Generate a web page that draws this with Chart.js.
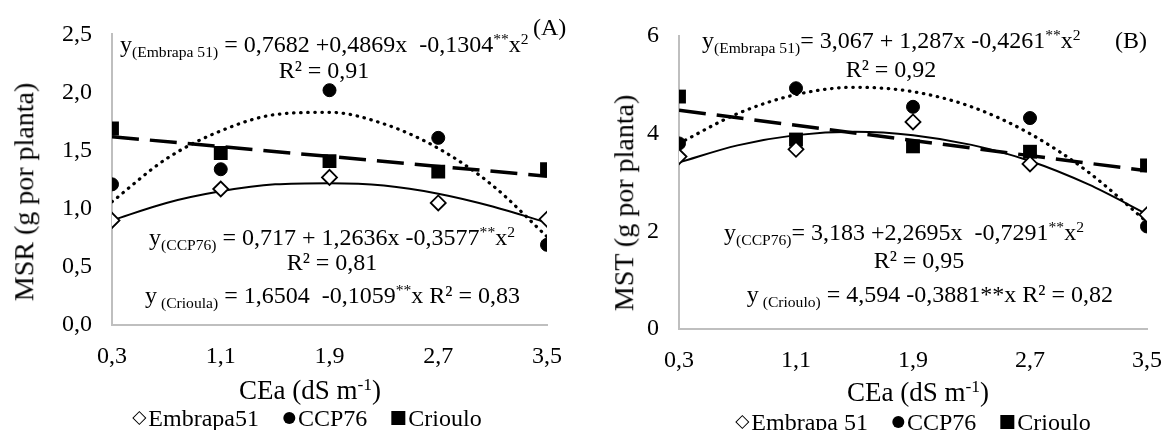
<!DOCTYPE html>
<html>
<head>
<meta charset="utf-8">
<script src="https://cdn.jsdelivr.net/npm/chart.js@4/dist/chart.umd.min.js"></script>
<style>
  html, body { margin:0; padding:0; background:#fff; }
  body { width:1163px; height:430px; overflow:hidden; position:relative;
         font-family:'Liberation Serif','Times New Roman',serif; color:#000; }
  canvas { position:absolute; top:0; }
  .t { position:absolute; font-size:24px; line-height:24px; white-space:pre; }
  .sb { font-size:0.65em; position:relative; top:0.32em; }
  .sp { font-size:0.65em; position:relative; top:-0.5em; }
  .ttl { position:absolute; font-size:27px; line-height:27px; white-space:pre; }
  .ytl { position:absolute; font-size:28px; line-height:28px; white-space:pre; }
  .leg { position:absolute; font-size:24px; line-height:24px; white-space:pre; transform:translate(-50%,-50%); }
  .mk { display:inline-block; vertical-align:middle; position:relative; top:-2px; }
  .mk.dia { width:8px; height:8px; border:1.6px solid #000; transform:rotate(45deg); margin:0 4px 0 2px; }
  .mk.cir { width:12px; height:12px; border-radius:50%; background:#000; margin:0 3px 0 0; }
  .mk.sq { width:14px; height:14px; background:#000; margin:0 3px 0 0; }
</style>
</head>
<body>
<canvas id="cA" width="580" height="430" style="left:0px"></canvas>
<canvas id="cB" width="600" height="430" style="left:580px"></canvas>

<script>
// ---------- data ----------
const X_VALUES = [0.3, 1.1, 1.9, 2.7, 3.5];
const X_LABELS = ['0,3', '1,1', '1,9', '2,7', '3,5'];

// Panel A : MSR
const A_Y_TICKS = [0, 0.5, 1.0, 1.5, 2.0, 2.5];
const A_Y_LABELS = ['0,0', '0,5', '1,0', '1,5', '2,0', '2,5'];
const A_EMBRAPA = [0.90, 1.17, 1.27, 1.05, 0.91];
const A_CCP76   = [1.21, 1.34, 2.02, 1.61, 0.69];
const A_CRIOULO = [1.69, 1.48, 1.41, 1.32, 1.34];

// Panel B : MST
const B_Y_TICKS = [0, 2, 4, 6];
const B_Y_LABELS = ['0', '2', '4', '6'];
const B_EMBRAPA = [3.53, 3.68, 4.24, 3.38, 2.34];
const B_CCP76   = [3.80, 4.93, 4.55, 4.32, 2.10];
const B_CRIOULO = [4.76, 3.88, 3.74, 3.63, 3.35];

// trend lines
const TREND_X = [0.3, 0.7, 1.1, 1.5, 1.9, 2.3, 2.7, 3.1, 3.5];
const A_TREND_EMBRAPA = [0.90, 1.05, 1.15, 1.21, 1.22, 1.20, 1.13, 1.02, 0.88];
const A_TREND_CCP76   = [1.06, 1.43, 1.67, 1.81, 1.83, 1.73, 1.52, 1.20, 0.76];
const LIN_X = [0.3, 3.5];
const A_TREND_CRIOULO = [1.62, 1.28];
const B_TREND_EMBRAPA = [3.41, 3.76, 3.97, 4.04, 3.97, 3.77, 3.44, 2.96, 2.35];
const B_TREND_CCP76   = [3.80, 4.41, 4.80, 4.95, 4.86, 4.55, 4.00, 3.21, 2.19];
const B_TREND_CRIOULO = [4.48, 3.24];

// ---------- helpers ----------
const FONT = "'Liberation Serif','Times New Roman',serif";
const pts = (xs, ys) => xs.map((x, i) => ({ x: x, y: ys[i] }));

function datasets(emb, ccp, cri, tEmb, tCcp, tCri) {
  return [
    { label: 'Embrapa', data: pts(X_VALUES, emb), showLine: false, pointStyle: 'rectRot',
      pointRadius: 7.5, pointBackgroundColor: '#fff', pointBorderColor: '#000', pointBorderWidth: 1.8 },
    { label: 'CCP76', data: pts(X_VALUES, ccp), showLine: false, pointStyle: 'circle',
      pointRadius: 6.5, pointBackgroundColor: '#000', pointBorderColor: '#000', pointBorderWidth: 1 },
    { label: 'Crioulo', data: pts(X_VALUES, cri), showLine: false, pointStyle: 'rect',
      pointRadius: 9.8, pointBackgroundColor: '#000', pointBorderColor: '#000', pointBorderWidth: 0 },
    { label: 'tEmb', data: pts(TREND_X, tEmb), pointRadius: 0, borderColor: '#000', borderWidth: 2,
      cubicInterpolationMode: 'monotone', fill: false },
    { label: 'tCcp', data: pts(TREND_X, tCcp), pointRadius: 0, borderColor: '#000', borderWidth: 3.2,
      borderDash: [0.5, 6.6], borderCapStyle: 'round', cubicInterpolationMode: 'monotone', fill: false },
    { label: 'tCri', data: pts(LIN_X, tCri), pointRadius: 0, borderColor: '#000', borderWidth: 3.5,
      borderDash: [27, 11], borderCapStyle: 'butt', fill: false }
  ];
}

function makeChart(id, ds, yTicks, yLabels, yMax, yW, xH, padTop, padRight) {
  return new Chart(document.getElementById(id), {
    type: 'line',
    data: { datasets: ds },
    options: {
      responsive: false, animation: false, devicePixelRatio: 1,
      layout: { padding: { left: 0, right: padRight, top: padTop, bottom: 0 } },
      plugins: { legend: { display: false }, tooltip: { enabled: false } },
      scales: {
        x: {
          type: 'linear', min: 0.3, max: 3.5,
          afterBuildTicks: s => { s.ticks = X_VALUES.map(v => ({ value: v })); },
          afterFit: s => { s.height = xH; },
          ticks: { callback: (v, i) => X_LABELS[i], font: { family: FONT, size: 24 }, color: '#000', padding: 17, maxRotation: 0, autoSkip: false },
          grid: { display: false, drawTicks: false },
          border: { display: true, color: '#bfbfbf', width: 2 }
        },
        y: {
          type: 'linear', min: 0, max: yMax,
          afterBuildTicks: s => { s.ticks = yTicks.map(v => ({ value: v })); },
          afterFit: s => { s.width = yW; },
          ticks: { callback: (v, i) => yLabels[i], font: { family: FONT, size: 24 }, color: '#000', padding: 20, autoSkip: false },
          grid: { display: false, drawTicks: false },
          border: { display: true, color: '#bfbfbf', width: 2 }
        }
      }
    }
  });
}

makeChart('cA', datasets(A_EMBRAPA, A_CCP76, A_CRIOULO, A_TREND_EMBRAPA, A_TREND_CCP76, A_TREND_CRIOULO),
          A_Y_TICKS, A_Y_LABELS, 2.5, 112, 105, 32, 33);
makeChart('cB', datasets(B_EMBRAPA, B_CCP76, B_CRIOULO, B_TREND_EMBRAPA, B_TREND_CCP76, B_TREND_CRIOULO),
          B_Y_TICKS, B_Y_LABELS, 6, 99, 101, 36, 33);

// ---------- text overlays ----------
function addText(cls, html, x, y, anchor) {
  const d = document.createElement('div');
  d.className = cls;
  d.innerHTML = html;
  d.style.top = y + 'px';
  document.body.appendChild(d);
  const w = d.getBoundingClientRect().width;
  let left = x;
  if (anchor === 'center') left = x - w / 2;
  else if (anchor === 'right') left = x - w;
  d.style.left = left + 'px';
  return d;
}
// Panel A equations
addText('t', 'y<span class="sb">(Embrapa 51)</span> = 0,7682 +0,4869x  -0,1304<span class="sp">**</span>x<span class="sp">2</span>', 120, 32, 'left');
addText('t', '(A)', 533, 15, 'left');
addText('t', 'R² = 0,91', 324, 58, 'center');
addText('t', 'y<span class="sb">(CCP76)</span> = 0,717 + 1,2636x -0,3577<span class="sp">**</span>x<span class="sp">2</span>', 515, 225, 'right');
addText('t', 'R² = 0,81', 332, 250, 'center');
addText('t', 'y<span class="sb"> (Crioula)</span> = 1,6504  -0,1059<span class="sp">**</span>x R² = 0,83', 520, 283, 'right');
// Panel B equations
addText('t', 'y<span class="sb">(Embrapa 51)</span>= 3,067 + 1,287x -0,4261<span class="sp">**</span>x<span class="sp">2</span>', 702, 28, 'left');
addText('t', '(B)', 1147, 28, 'right');
addText('t', 'R² = 0,92', 891, 57, 'center');
addText('t', 'y<span class="sb">(CCP76)</span>= 3,183 +2,2695x  -0,7291<span class="sp">**</span>x<span class="sp">2</span>', 904, 220, 'center');
addText('t', 'R² = 0,95', 919, 248, 'center');
addText('t', 'y<span class="sb"> (Crioulo)</span> = 4,594 -0,3881**x R² = 0,82', 1113, 282, 'right');

// axis titles
addText('ttl', 'CEa (dS m<span class="sp">-1</span>)', 310, 377, 'center');
addText('ttl', 'CEa (dS m<span class="sp">-1</span>)', 918, 379, 'center');
function yTitle(text, cx, cy) {
  const d = document.createElement('div');
  d.className = 'ytl';
  d.textContent = text;
  document.body.appendChild(d);
  const r = d.getBoundingClientRect();
  d.style.left = (cx - r.width / 2) + 'px';
  d.style.top = (cy - r.height / 2) + 'px';
  d.style.transform = 'rotate(-90deg)';
}
yTitle('MSR (g por planta)', 24, 192);
yTitle('MST (g por planta)', 624, 203);

// legends
function legend(names, cx, cy) {
  const d = document.createElement('div');
  d.className = 'leg';
  d.style.left = cx + 'px';
  d.style.top = cy + 'px';
  d.innerHTML = '<span class="mk dia"></span>' + names[0] + '    ' +
                '<span class="mk cir"></span>' + names[1] + '    ' +
                '<span class="mk sq"></span>' + names[2];
  document.body.appendChild(d);
}
legend(['Embrapa51', 'CCP76', 'Crioulo'], 307, 418);
legend(['Embrapa 51', 'CCP76', 'Crioulo'], 913, 422);
</script>
</body>
</html>
